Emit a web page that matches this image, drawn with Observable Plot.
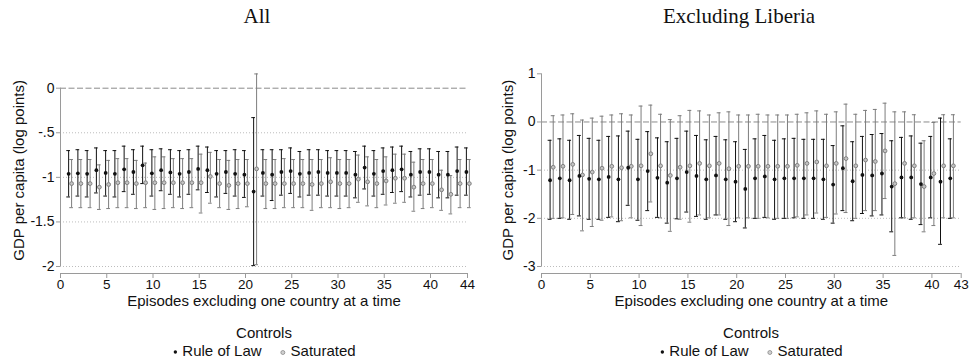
<!DOCTYPE html>
<html><head><meta charset="utf-8">
<script src="https://cdn.jsdelivr.net/npm/d3@7"></script>
<script src="https://cdn.jsdelivr.net/npm/@observablehq/plot@0.6"></script>
<style>
body{margin:0;background:#fff;}
#root{position:relative;width:969px;height:361px;overflow:hidden;font-family:"Liberation Sans",Arial,sans-serif;color:#111;}
.title{position:absolute;top:4px;font-family:"Liberation Serif",serif;font-size:21px;transform:translateX(-50%);white-space:nowrap;}
.panel{position:absolute;top:40px;}
.legend{position:absolute;transform:translateX(-50%);text-align:center;font-size:15px;white-space:nowrap;line-height:18px;}
.legend svg{vertical-align:middle;margin-right:4px;}
</style>
</head><body><div id="root"></div>
<script>
// ---------- Panel 1: All ----------
const allEpisodes = d3.range(1, 45);
const allRolPoint = [-0.96,-0.955,-0.96,-0.92,-0.95,-0.96,-0.91,-0.94,-0.865,-0.955,-0.92,-0.945,-0.96,-0.94,-0.905,-0.92,-0.96,-0.94,-0.96,-0.97,-1.16,-0.95,-0.97,-0.94,-0.93,-0.96,-0.95,-0.94,-0.95,-0.95,-0.95,-0.97,-0.89,-0.96,-0.93,-0.92,-0.91,-0.97,-0.94,-0.94,-0.97,-0.97,-0.93,-0.94];
const allRolHi = [-0.70,-0.69,-0.70,-0.67,-0.70,-0.70,-0.65,-0.69,-0.65,-0.69,-0.68,-0.69,-0.70,-0.69,-0.65,-0.66,-0.70,-0.70,-0.69,-0.70,-0.33,-0.69,-0.69,-0.69,-0.67,-0.71,-0.69,-0.69,-0.70,-0.70,-0.70,-0.71,-0.65,-0.70,-0.67,-0.66,-0.65,-0.71,-0.68,-0.68,-0.71,-0.71,-0.66,-0.67];
const allRolLo = [-1.22,-1.21,-1.22,-1.175,-1.21,-1.22,-1.16,-1.19,-1.07,-1.21,-1.15,-1.19,-1.22,-1.19,-1.14,-1.17,-1.22,-1.18,-1.21,-1.225,-1.99,-1.21,-1.26,-1.20,-1.18,-1.22,-1.20,-1.20,-1.21,-1.21,-1.21,-1.23,-1.13,-1.21,-1.19,-1.17,-1.16,-1.22,-1.20,-1.19,-1.23,-1.23,-1.20,-1.20];
const allSatPoint = [-1.07,-1.07,-1.07,-1.11,-1.08,-1.06,-1.06,-1.07,-1.06,-1.06,-1.06,-1.06,-1.06,-1.06,-1.06,-0.99,-1.07,-1.09,-1.07,-1.07,-0.905,-1.07,-1.07,-1.07,-1.07,-1.07,-1.08,-1.07,-1.05,-1.07,-1.07,-1.02,-1.05,-1.07,-1.04,-1.01,-1.01,-1.11,-1.07,-1.07,-1.14,-1.19,-1.07,-1.07];
const allSatHi = [-0.80,-0.80,-0.80,-0.86,-0.81,-0.79,-0.79,-0.81,-0.84,-0.77,-0.77,-0.79,-0.79,-0.79,-0.74,-0.72,-0.80,-0.81,-0.80,-0.80,0.16,-0.80,-0.80,-0.79,-0.80,-0.80,-0.80,-0.80,-0.78,-0.80,-0.80,-0.75,-0.77,-0.80,-0.77,-0.74,-0.74,-0.83,-0.80,-0.80,-0.92,-0.98,-0.80,-0.80];
const allSatLo = [-1.34,-1.34,-1.34,-1.36,-1.35,-1.34,-1.34,-1.35,-1.34,-1.36,-1.35,-1.34,-1.35,-1.34,-1.40,-1.29,-1.34,-1.36,-1.35,-1.33,-1.98,-1.35,-1.35,-1.34,-1.34,-1.34,-1.37,-1.34,-1.34,-1.35,-1.34,-1.28,-1.32,-1.34,-1.31,-1.29,-1.28,-1.38,-1.35,-1.34,-1.37,-1.41,-1.34,-1.34];
const allXTicks = [0,5,10,15,20,25,30,35,40,44];
const allYTicks = [0,-0.5,-1,-1.5,-2];
const allYTickLabels = ["0","-.5","-1","-1.5","-2"];
const allGrid = [-0.5,-1,-1.5,-2];

// ---------- Panel 2: Excluding Liberia ----------
const exlEpisodes = d3.range(1, 43);
const exlRolPoint = [-1.21,-1.17,-1.21,-1.12,-1.18,-1.19,-1.14,-1.19,-0.95,-1.19,-1.02,-1.16,-1.26,-1.17,-1.04,-1.12,-1.19,-1.11,-1.19,-1.24,-1.39,-1.17,-1.13,-1.19,-1.17,-1.17,-1.17,-1.17,-1.19,-1.30,-0.96,-1.23,-1.10,-1.11,-1.07,-1.34,-1.15,-1.15,-1.29,-1.15,-1.24,-1.17];
const exlRolHi = [-0.38,-0.35,-0.38,-0.28,-0.34,-0.38,-0.30,-0.29,-0.19,-0.36,-0.20,-0.33,-0.41,-0.34,-0.19,-0.28,-0.37,-0.30,-0.37,-0.41,-0.57,-0.35,-0.28,-0.38,-0.35,-0.34,-0.36,-0.36,-0.36,-0.49,-0.08,-0.41,-0.30,-0.26,-0.24,-0.39,-0.32,-0.29,-0.44,-0.30,0.08,-0.35];
const exlRolLo = [-2.02,-2.00,-2.02,-1.95,-2.02,-2.02,-1.98,-2.07,-1.73,-2.04,-1.84,-1.98,-2.10,-2.01,-1.87,-1.96,-2.02,-1.93,-2.02,-2.07,-2.20,-2.00,-1.98,-2.02,-2.00,-1.99,-2.00,-2.00,-2.02,-2.10,-1.84,-2.05,-1.90,-1.95,-1.93,-2.28,-1.99,-2.02,-2.13,-1.99,-2.54,-2.00];
const exlSatPoint = [-0.94,-0.92,-0.88,-1.10,-1.04,-0.96,-0.92,-0.95,-0.92,-0.91,-0.66,-0.91,-1.11,-0.94,-0.91,-0.86,-0.91,-0.86,-0.97,-0.92,-0.92,-0.92,-0.92,-0.92,-0.92,-0.90,-0.86,-0.83,-0.91,-0.86,-0.76,-0.91,-0.79,-0.82,-0.60,-1.28,-0.86,-0.91,-1.34,-1.07,-0.91,-0.91];
const exlSatHi = [0.13,0.145,0.17,0.04,0.08,0.12,0.145,0.17,0.145,0.33,0.35,0.16,0.05,0.13,0.24,0.23,0.145,0.19,0.21,0.145,0.145,0.16,0.145,0.145,0.145,0.16,0.19,0.23,0.16,0.21,0.37,0.16,0.24,0.26,0.39,0.21,0.21,0.15,-0.39,-0.01,0.15,0.15];
const exlSatLo = [-2.00,-1.99,-1.92,-2.26,-2.17,-2.04,-1.97,-2.05,-1.99,-2.15,-1.66,-1.99,-2.27,-2.02,-2.08,-1.93,-1.99,-1.93,-2.15,-1.99,-1.99,-2.00,-1.99,-2.00,-2.00,-1.97,-1.93,-1.89,-1.98,-1.91,-1.88,-2.00,-1.84,-1.84,-1.59,-2.77,-1.99,-1.99,-2.28,-2.15,-1.99,-1.99];
const exlXTicks = [0,5,10,15,20,25,30,35,40,43];
const exlYTicks = [1,0,-1,-2,-3];
const exlYTickLabels = ["1","0","-1","-2","-3"];
const exlGrid = [-1,-2,-3];

const xLabel = "Episodes excluding one country at a time";
const yLabel = "GDP per capita (log points)";
const legendTitle = "Controls";
const seriesNames = ["Rule of Law","Saturated"];

const BLACK = "#111", GRAY = "#7d7d7d";
const offRol = -0.12, offSat = 0.2, cap = 0.2;

function makePanel(c) {
  const rows = c.episodes.map((e, i) => ({
    e, rp: c.rolPoint[i], rh: c.rolHi[i], rl: c.rolLo[i],
    sp: c.satPoint[i], sh: c.satHi[i], sl: c.satLo[i]
  }));
  const xR = d => d.e + offRol, xS = d => d.e + offSat;
  const yMin = d3.min(c.yTicks), yMax = d3.max(c.yTicks);
  const xMax = d3.max(c.xTicks);
  return Plot.plot({
    width: c.width, height: 272,
    marginTop: c.marginTop, marginBottom: 46, marginLeft: c.marginLeft, marginRight: c.marginRight,
    x: {domain: [0, xMax]},
    y: {domain: [yMin, yMax]},
    style: {fontFamily: '"Liberation Sans", Arial, sans-serif', fontSize: "14px", color: "#111", background: "transparent", overflow: "visible"},
    marks: [
      Plot.ruleY(c.grid, {stroke: "#bdbdbd", strokeDasharray: "1,2"}),
      Plot.ruleY([0], {stroke: "#8a8a8a", strokeDasharray: "6,2.5"}),
      Plot.ruleX([0], {y1: yMin, y2: yMax, stroke: "#9a9a9a"}),
      Plot.ruleY([yMin], {x1: 0, x2: xMax, dy: 7, stroke: "#9a9a9a"}),
      Plot.axisY({ticks: c.yTicks, tickFormat: d => c.yTickLabels[c.yTicks.indexOf(d)], tickSize: 4, tickPadding: 2, stroke: "#9a9a9a", fill: "#111", label: null}),
      Plot.axisX({ticks: c.xTicks, tickFormat: d => String(d), tickSize: 5, tickPadding: 1, dy: 7, fontSize: 13.5, stroke: "#9a9a9a", fill: "#111", label: null}),
      // Saturated error bars
      Plot.ruleX(rows, {x: xS, y1: "sl", y2: "sh", stroke: GRAY, strokeWidth: 1}),
      Plot.ruleY(rows, {y: "sh", x1: d => xS(d) - cap, x2: d => xS(d) + cap, stroke: GRAY}),
      Plot.ruleY(rows, {y: "sl", x1: d => xS(d) - cap, x2: d => xS(d) + cap, stroke: GRAY}),
      // Rule of Law error bars
      Plot.ruleX(rows, {x: xR, y1: "rl", y2: "rh", stroke: BLACK, strokeWidth: 1}),
      Plot.ruleY(rows, {y: "rh", x1: d => xR(d) - cap, x2: d => xR(d) + cap, stroke: BLACK}),
      Plot.ruleY(rows, {y: "rl", x1: d => xR(d) - cap, x2: d => xR(d) + cap, stroke: BLACK}),
      Plot.dot(rows, {x: xS, y: "sp", r: 1.9, fill: "#c4c4c4", stroke: "#808080", strokeWidth: 1}),
      Plot.dot(rows, {x: xR, y: "rp", r: 1.9, fill: BLACK, stroke: null}),
      Plot.text([yLabel], {frameAnchor: "left", textAnchor: "middle", lineAnchor: "middle", rotate: -90, dx: c.yLabelDx, dy: c.yLabelDy, fontSize: 15, fill: "#111"}),
      Plot.text([xLabel], {frameAnchor: "bottom", textAnchor: "middle", lineAnchor: "middle", dy: 35, fontSize: 15, fill: "#111"})
    ]
  });
}

const root = document.getElementById("root");
function legendHTML() {
  return `<div>${legendTitle}</div><div>` +
    `<svg width="6" height="6"><circle cx="3" cy="3" r="1.7" fill="${BLACK}"/></svg>${seriesNames[0]}` +
    `<span style="display:inline-block;width:18px"></span>` +
    `<svg width="7" height="7"><circle cx="3.5" cy="3.5" r="2" fill="#d0d0d0" stroke="#8a8a8a" stroke-width="0.8"/></svg>${seriesNames[1]}</div>`;
}
const panels = [
  {title: "All", titleX: 257, left: 0, width: 484, marginLeft: 60, marginRight: 17, marginTop: 47.7, legendX: 264,
   yLabelDx: -41, yLabelDy: -7,
   episodes: allEpisodes, rolPoint: allRolPoint, rolHi: allRolHi, rolLo: allRolLo, satPoint: allSatPoint, satHi: allSatHi, satLo: allSatLo,
   xTicks: allXTicks, yTicks: allYTicks, yTickLabels: allYTickLabels, grid: allGrid},
  {title: "Excluding Liberia", titleX: 739, left: 484, width: 485, marginLeft: 57, marginRight: 8.3, marginTop: 33.3, legendX: 751,
   yLabelDx: -33, yLabelDy: 0,
   episodes: exlEpisodes, rolPoint: exlRolPoint, rolHi: exlRolHi, rolLo: exlRolLo, satPoint: exlSatPoint, satHi: exlSatHi, satLo: exlSatLo,
   xTicks: exlXTicks, yTicks: exlYTicks, yTickLabels: exlYTickLabels, grid: exlGrid}
];
for (const p of panels) {
  const t = document.createElement("div");
  t.className = "title"; t.style.left = p.titleX + "px"; t.textContent = p.title;
  root.appendChild(t);
  const wrap = document.createElement("div");
  wrap.className = "panel"; wrap.style.left = p.left + "px";
  wrap.appendChild(makePanel(p));
  root.appendChild(wrap);
  const lg = document.createElement("div");
  lg.className = "legend"; lg.style.left = p.legendX + "px"; lg.style.top = "324px";
  lg.innerHTML = legendHTML();
  root.appendChild(lg);
}
</script>
</body></html>
